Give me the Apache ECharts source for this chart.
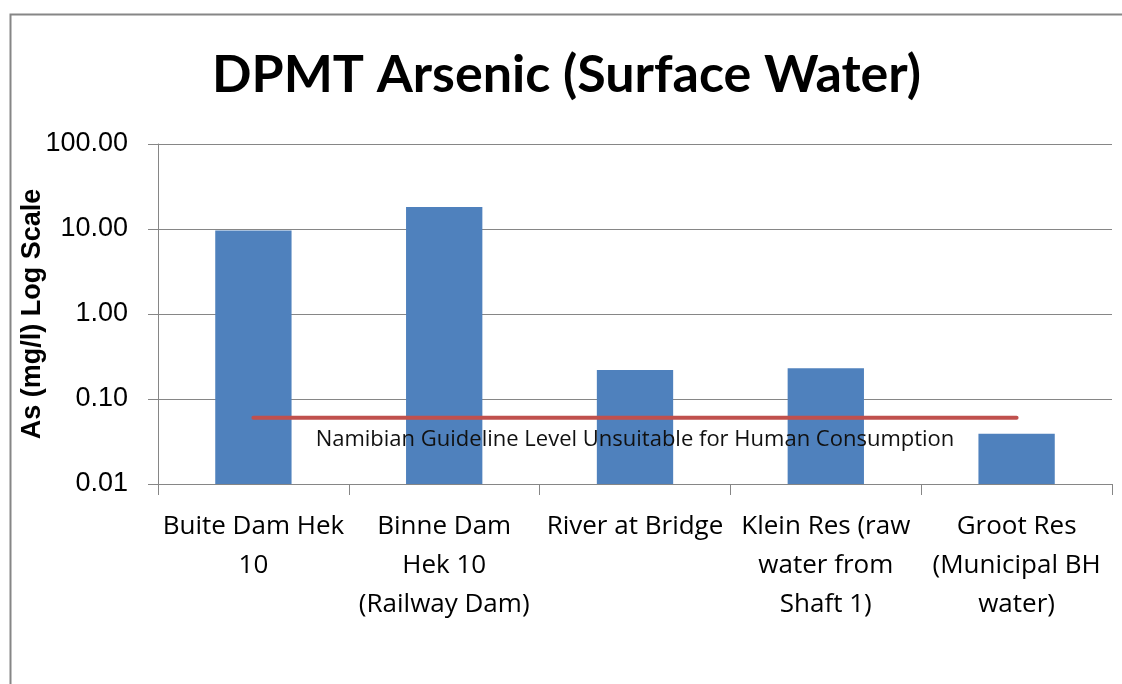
<!DOCTYPE html>
<html>
<head>
<meta charset="utf-8">
<script src="https://cdn.jsdelivr.net/npm/echarts@6/dist/echarts.min.js"></script>
<style>html,body{margin:0;padding:0;background:#fff}#c{width:1122px;height:684px}</style>
</head>
<body>
<div id="c"></div>
<script>
var categories = ["Buite Dam Hek\n10", "Binne Dam\nHek 10\n(Railway Dam)", "River at Bridge", "Klein Res (raw\nwater from\nShaft 1)", "Groot Res\n(Municipal BH\nwater)"];
var arsenic = [9.6, 18.2, 0.22, 0.23, 0.039];
var guideline = [0.06, 0.06, 0.06, 0.06, 0.06];
var guidelineLabel = "Namibian Guideline Level Unsuitable for Human Consumption";
var yTicks = [0.01, 0.1, 1, 10, 100];
var yMin = 0.01, yMax = 100;

var chart = echarts.init(document.getElementById('c'), null, {renderer: 'canvas'});
var grey = '#868686';
chart.setOption({
  animation: false,
  backgroundColor: '#fff',
  graphic: [{
    type: 'rect', left: 8, top: 12, shape: {width: 1300, height: 900},
    style: {fill: 'none', stroke: grey, lineWidth: 2}, silent: true
  }],
  title: {
    text: 'DPMT Arsenic (Surface Water)', left: 207, top: 44,
    textStyle: {fontFamily: 'Lato', fontWeight: 'bold', fontSize: 52, color: '#000'}
  },
  grid: {left: 158, right: 10, top: 144, bottom: 200, containLabel: false},
  xAxis: {
    type: 'category', data: categories,
    axisLine: {show: true, lineStyle: {color: grey, width: 1}},
    axisTick: {show: true, length: 11, lineStyle: {color: grey}},
    axisLabel: {interval: 0, margin: 23, color: '#000', fontFamily: 'Open Sans', fontSize: 26, lineHeight: 39},
    splitLine: {show: false}
  },
  yAxis: {
    type: 'log', logBase: 10, min: yMin, max: yMax,
    name: 'As (mg/l) Log Scale', nameLocation: 'middle', nameRotate: 90, nameGap: 112,
    nameMoveOverlap: false,
    nameTextStyle: {fontFamily: 'Liberation Sans', fontWeight: 'bold', fontSize: 27, color: '#000'},
    axisLine: {show: true, lineStyle: {color: grey, width: 1}},
    axisTick: {show: true, length: 10, lineStyle: {color: grey}},
    axisLabel: {margin: 30, color: '#000', fontFamily: 'Liberation Sans', fontSize: 27,
      formatter: function (v) { return Number(v).toFixed(2); }},
    splitLine: {show: true, lineStyle: {color: grey, width: 1}}
  },
  series: [{
    type: 'custom',
    data: arsenic.map(function (v, i) { return [i, v]; }),
    encode: {x: 0, y: 1},
    renderItem: function (params, api) {
      var i = api.value(0), v = api.value(1);
      var top = api.coord([i, v]);
      var bottom = api.coord([i, yMin]);
      var w = api.size([1, 1])[0] * 0.4;
      return {type: 'rect', shape: {x: top[0] - w / 2, y: top[1], width: w, height: bottom[1] - top[1]},
        style: {fill: '#4f81bd'}};
    },
    z: 2
  }, {
    type: 'line',
    data: guideline.map(function (v, i) {
      var d = {value: v};
      if (i === 2) d.label = {show: true, formatter: guidelineLabel, position: 'bottom', distance: 11,
        color: '#111', fontFamily: 'Open Sans', fontSize: 22};
      return d;
    }),
    symbol: 'circle', symbolSize: 0, showSymbol: true,
    lineStyle: {color: '#c0504d', width: 4, cap: 'round'},
    itemStyle: {color: '#c0504d'},
    label: {show: false},
    z: 3
  }]
});
</script>
</body>
</html>
